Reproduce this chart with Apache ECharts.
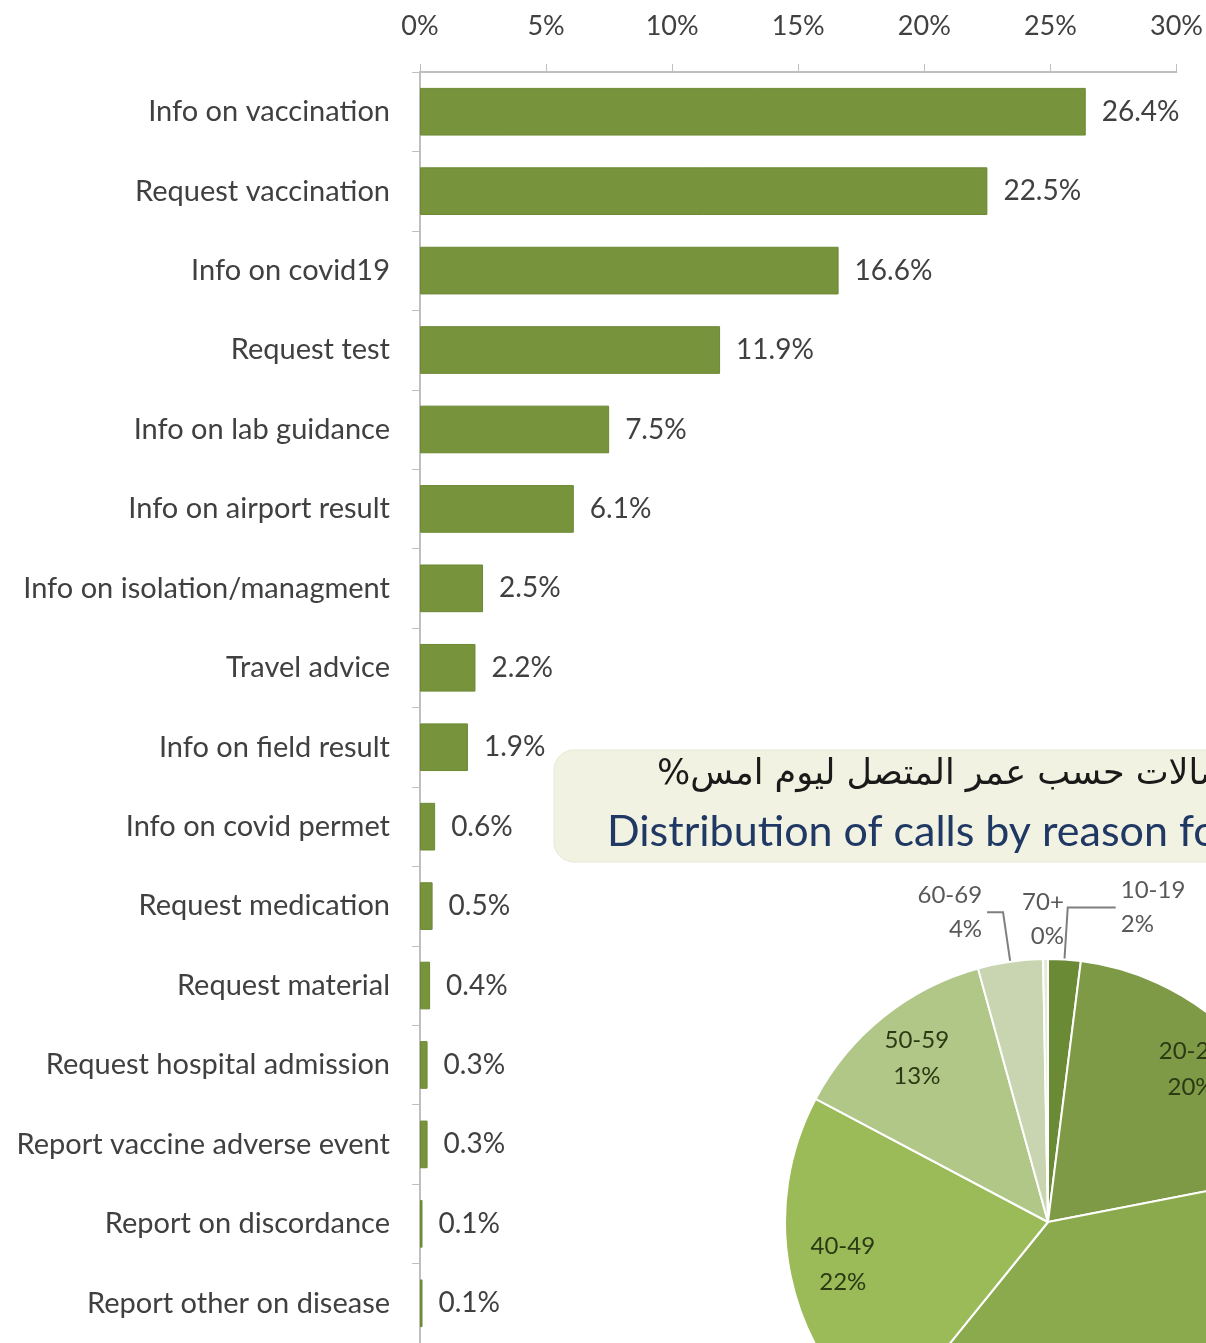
<!DOCTYPE html>
<html>
<head>
<meta charset="utf-8">
<script src="https://cdn.jsdelivr.net/npm/echarts@6/dist/echarts.min.js"></script>
<style>
  html, body { margin: 0; padding: 0; background: #fff; }
  #chart { width: 1206px; height: 1343px; }
</style>
</head>
<body>
<div id="chart"></div>
<script>
// calls by reason (%), top to bottom
var reasons = [
  'Info on vaccination', 'Request vaccination', 'Info on covid19', 'Request test',
  'Info on lab guidance', 'Info on airport result', 'Info on isolation/managment',
  'Travel advice', 'Info on field result', 'Info on covid permet', 'Request medication',
  'Request material', 'Request hospital admission', 'Report vaccine adverse event',
  'Report on discordance', 'Report other on disease'
];
var reasonShares = [26.4, 22.5, 16.6, 11.9, 7.5, 6.1, 2.5, 2.2, 1.9, 0.6, 0.5, 0.4, 0.3, 0.3, 0.1, 0.1];

// calls by caller age (%), clockwise from 12 o'clock
var ageGroups = ['10-19', '20-29', '30-39', '40-49', '50-59', '60-69', '70+'];
var ageShares = [2, 20, 39, 22, 13, 4, 0.3];

var titleArabic = '%' + 'توزيع الاتصالات حسب عمر المتصل ليوم امس';
var titleEnglish = 'Distribution of calls by reason for call %';

var pieColors = ['#6B8A35', '#7E9A46', '#8BAA4E', '#9BBB59', '#B0C788', '#C8D5B0', '#E4EAD8'];
var font = 'Lato';

var pieCenter = [1048, 1222];
var pieR = 263;

// leader line lengths for the small slices (outside labels)
var lineLen = { '10-19': [52, 48], '60-69': [50, 16], '70+': [40, 0] };

var outerData = ageGroups.map(function (n, i) {
  var small = ageShares[i] < 10;
  var item = {
    name: n,
    value: ageShares[i],
    itemStyle: { color: pieColors[i] },
    label: { show: small }
  };
  if (small) {
    item.labelLine = {
      show: true,
      length: lineLen[n][0],
      length2: lineLen[n][1],
      lineStyle: { opacity: n === '70+' ? 0 : 1 }
    };
  } else {
    item.labelLine = { show: false };
  }
  return item;
});
var ringData = ageGroups.map(function (n, i) {
  return {
    name: n,
    value: ageShares[i],
    label: { show: ageShares[i] >= 10 }
  };
});

var chart = echarts.init(document.getElementById('chart'));
chart.setOption({
  backgroundColor: '#fff',
  animation: false,
  grid: { left: 420, top: 72, width: 760, height: 1272 },
  xAxis: {
    type: 'value',
    position: 'top',
    min: 0,
    max: 30,
    interval: 5,
    axisLine: { show: true, lineStyle: { color: '#BFBFBF', width: 2 } },
    axisTick: { show: true, length: 8, lineStyle: { color: '#BFBFBF' } },
    axisLabel: {
      margin: 32,
      color: '#404040',
      fontFamily: font,
      fontSize: 27,
      formatter: '{value}%'
    },
    splitLine: { show: false }
  },
  yAxis: {
    type: 'category',
    inverse: true,
    data: reasons,
    axisLine: { show: true, lineStyle: { color: '#BFBFBF', width: 2 } },
    axisTick: { show: true, length: 8, lineStyle: { color: '#BFBFBF' } },
    axisLabel: {
      margin: 30,
      color: '#404040',
      fontFamily: font,
      fontSize: 29
    }
  },
  graphic: [
    {
      type: 'rect',
      shape: { x: 554, y: 750, width: 720, height: 112, r: 20 },
      style: { fill: '#F2F2E2', stroke: '#E6E8D4', lineWidth: 1 }
    },
    {
      type: 'text',
      x: 657,
      y: 775,
      style: {
        text: titleArabic,
        font: '35px "DejaVu Sans"',
        fill: '#1A1A1A',
        verticalAlign: 'middle'
      }
    },
    {
      type: 'text',
      x: 607,
      y: 832,
      style: {
        text: titleEnglish,
        font: '43px Lato',
        fill: '#1F3864',
        verticalAlign: 'middle'
      }
    }
  ],
  series: [
    {
      type: 'bar',
      data: reasonShares,
      barCategoryGap: '40%',
      itemStyle: { color: '#77933C', borderColor: '#6C8834', borderWidth: 1 },
      label: {
        show: true,
        position: 'right',
        distance: 16,
        color: '#404040',
        fontFamily: font,
        fontSize: 28,
        formatter: function (p) { return p.value.toFixed(1) + '%'; }
      }
    },
    {
      type: 'pie',
      center: pieCenter,
      radius: [0, pieR],
      startAngle: 90,
      clockwise: true,
      avoidLabelOverlap: false,
      silent: true,
      data: outerData,
      itemStyle: { borderColor: '#fff', borderWidth: 2 },
      label: {
        position: 'outside',
        color: '#595959',
        fontFamily: font,
        fontSize: 24,
        lineHeight: 34,
        align: 'center',
        formatter: function (p) { return p.name + '\n' + Math.round(p.value) + '%'; }
      },
      labelLine: { lineStyle: { color: '#7F7F7F', width: 2 } },
      // the 70+ label sits roughly centred right above the top of the pie
      labelLayout: function (p) {
        if (p.dataIndex !== 6) return {};
        return { dx: pieCenter[0] - 5 - (p.labelRect.x + p.labelRect.width / 2), dy: 0 };
      },
      z: 3
    },
    {
      type: 'pie',
      center: pieCenter,
      radius: [150, pieR],
      startAngle: 90,
      clockwise: true,
      silent: true,
      data: ringData,
      itemStyle: { color: 'rgba(0,0,0,0)' },
      label: {
        position: 'inside',
        color: '#2C3A14',
        fontFamily: font,
        fontSize: 24,
        lineHeight: 36,
        formatter: function (p) { return p.name + '\n' + Math.round(p.value) + '%'; }
      },
      labelLine: { show: false },
      z: 4
    }
  ]
});
</script>
</body>
</html>
